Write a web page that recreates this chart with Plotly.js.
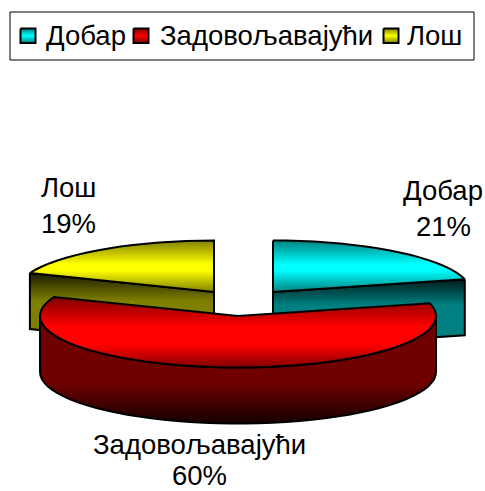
<!DOCTYPE html>
<html>
<head>
<meta charset="utf-8">
<script src="https://cdn.plot.ly/plotly-3.0.1.min.js"></script>
<style>html,body{margin:0;padding:0;background:#fff}#chart{width:485px;height:491px}</style>
</head>
<body>
<div id="chart"></div>
<script>
var categories = ['Добар', 'Задовољавајући', 'Лош'];
var shares = [21, 60, 19];
var baseColors = ['#00ffff', '#ff0000', '#ffff00'];
var midColors = ['#008080', '#800000', '#808000'];
var darkColors = ['#001a1a', '#160000', '#1a1a00'];

var FONT = 'Liberation Sans, Arial, sans-serif';
var FONT_SIZE = 27.5;
var RX = 198, RY = 51.5, DEPTH = 56;
var centres = [[273, 292], [238, 316], [214, 292]];
var labelPos = [[443, 190, 226], [199, 444, 475], [68, 187, 223]];
var legendSwatchX = [28, 141, 391];
var legendTextX = [44, 158, 405];

function pt(c, deg, dy) {
  var a = deg * Math.PI / 180;
  return [c[0] + RX * Math.sin(a), c[1] - RY * Math.cos(a) + (dy || 0)];
}
function arc(c, a0, a1, dy) {
  var n = Math.max(2, Math.round(Math.abs(a1 - a0) / 4)), out = [];
  for (var i = 0; i <= n; i++) out.push(pt(c, a0 + (a1 - a0) * i / n, dy));
  return out;
}
// fillgradient runs from the bottom of the drawing upward, so stops listed top-down are flipped here
function flip(stops) {
  return stops.map(function (s) { return [1 - s[0], s[1]]; }).reverse();
}
function poly(points, stops, name) {
  var xs = points.map(function (p) { return p[0]; });
  var ys = points.map(function (p) { return p[1]; });
  xs.push(xs[0]); ys.push(ys[0]);
  return {
    type: 'scatter', mode: 'lines', x: xs, y: ys, fill: 'toself', name: name,
    line: { color: '#000000', width: 2, simplify: false }, showlegend: false, hoverinfo: 'name',
    fillgradient: { type: 'vertical', colorscale: flip(stops) }
  };
}
var total = shares.reduce(function (a, b) { return a + b; }, 0);
var angles = [0], run = 0;
shares.forEach(function (v) { run += v; angles.push(run / total * 360); });

function topStops(i, a, b) {
  return [[0, midColors[i]], [a, baseColors[i]], [b, baseColors[i]], [1, midColors[i]]];
}
function sideStops(i) {
  return [[0, darkColors[i]], [0.38, midColors[i]], [1, midColors[i]]];
}
function bowlStops(i) {
  return [[0, '#700000'], [0.62, '#700000'], [1, darkColors[i]]];
}

var traces = [];
(function () {
  var i = 0, c = centres[i], a0 = angles[0], a1 = angles[1];
  var tip = pt(c, a1), tipD = pt(c, a1, DEPTH);
  traces.push(poly([tip, c, [c[0], c[1] + DEPTH], tipD], sideStops(i), categories[i]));
  traces.push(poly(arc(c, a0, a1).concat([c]), topStops(i, 0.46, 0.58), categories[i]));
})();
(function () {
  var i = 2, c = centres[i], a0 = angles[2], a1 = angles[3];
  var tip = pt(c, a0), tipD = pt(c, a0, DEPTH);
  traces.push(poly([tip, c, [c[0], c[1] + DEPTH], tipD], sideStops(i), categories[i]));
  traces.push(poly(arc(c, a0, a1).concat([c]), topStops(i, 0.46, 0.58), categories[i]));
})();
(function () {
  var i = 1, c = centres[i], a0 = angles[1], a1 = angles[2];
  var front = arc(c, 90, 270).concat(arc(c, 270, 90, DEPTH));
  traces.push(poly(front, bowlStops(i), categories[i]));
  traces.push(poly(arc(c, a0, a1).concat([c]), topStops(i, 0.42, 0.68), categories[i]));
})();
categories.forEach(function (n, i) {
  var x = legendSwatchX[i], s = 7.5;
  traces.push(poly([[x - s, 28.5], [x + s, 28.5], [x + s, 43], [x - s, 43]],
    [[0, midColors[i]], [0.5, baseColors[i]], [1, midColors[i]]], n));
});

var annotations = [];
function note(text, x, y, anchor) {
  annotations.push({ text: text, x: x, y: y, xref: 'x', yref: 'y', showarrow: false,
    xanchor: anchor || 'center', yanchor: 'middle', font: { family: FONT, size: FONT_SIZE, color: '#000' } });
}
categories.forEach(function (n, i) {
  note(n, labelPos[i][0], labelPos[i][1]);
  note(Math.round(shares[i] / total * 100) + '%', labelPos[i][0], labelPos[i][2]);
  note(n, legendTextX[i], 35, 'left');
});

Plotly.newPlot('chart', traces, {
  width: 485, height: 491, margin: { l: 0, r: 0, t: 0, b: 0 },
  paper_bgcolor: '#fff', plot_bgcolor: '#fff', showlegend: false,
  xaxis: { range: [0, 485], visible: false, fixedrange: true },
  yaxis: { range: [491, 0], visible: false, fixedrange: true },
  shapes: [{ type: 'rect', xref: 'x', yref: 'y', x0: 10, x1: 474, y0: 12, y1: 60,
    line: { color: '#000', width: 1 }, fillcolor: 'rgba(0,0,0,0)' }],
  annotations: annotations
}, { displayModeBar: false, staticPlot: true });
</script>
</body>
</html>
